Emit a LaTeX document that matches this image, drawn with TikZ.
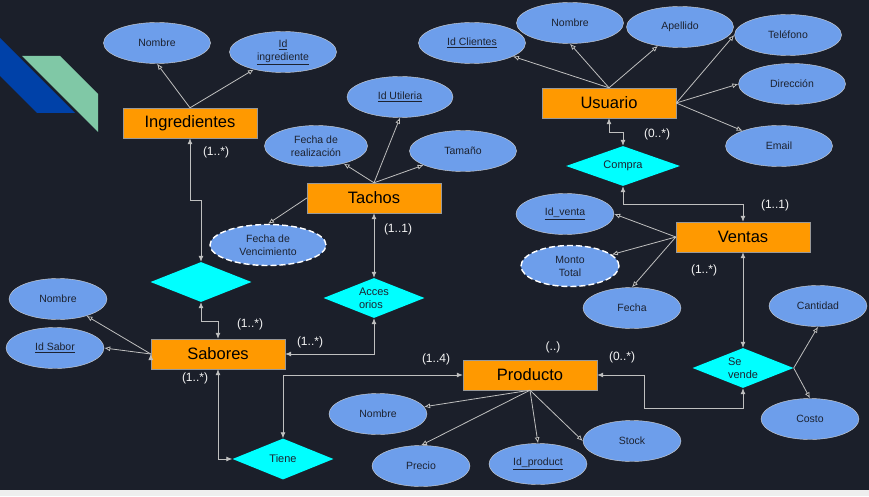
\documentclass[tikz,border=0pt]{standalone}
\usepackage{fontspec}
\setmainfont{Liberation Sans}
\usepackage{tikz}
\usetikzlibrary{arrows.meta, positioning, shapes, calc}

\definecolor{fondo}{HTML}{1B1F2A}
\definecolor{franja}{HTML}{EEEEEE}
\definecolor{atributo}{HTML}{6D9EEB}
\definecolor{entidad}{HTML}{FF9900}
\definecolor{relacion}{HTML}{00FFFF}
\definecolor{linea}{HTML}{BFBFBF}
\definecolor{textoOsc}{HTML}{1C2230}
\definecolor{azulDeco}{HTML}{0041A8}
\definecolor{verdeDeco}{HTML}{80C8A6}

\begin{document}
\begin{tikzpicture}[x=1pt, y=1pt, on grid, >={Latex[length=6pt,width=5pt]}]

    \tikzset{
        entityBox/.style={draw=gray!80, fill=entidad, minimum width=134pt, minimum height=30pt, inner sep=0pt, text=black, font=\fontsize{16.5}{19}\selectfont},
        attrNode/.style={draw=gray!35, fill=atributo, ellipse, minimum width=107pt, minimum height=41pt, inner sep=0pt, align=center, text=textoOsc, font=\fontsize{10.5}{13}\selectfont},
        smallAttr/.style={attrNode, minimum width=98pt},
        derivedAttr/.style={attrNode, draw=white, dashed, dash pattern=on 6pt off 3pt, line width=1.4pt},
        relDiamond/.style={diamond, aspect=2.5, fill=relacion, minimum width=101pt, minimum height=40pt, inner sep=0pt, align=left, text=textoOsc, font=\fontsize{11}{13}\selectfont},
        cardLabel/.style={text=white!92!gray, inner sep=0pt, font=\fontsize{12}{14}\selectfont}
    }

    % Fondo
    \fill[fondo] (0,0) rectangle (869,496);
    \fill[franja] (0,0) rectangle (869,6);
    \useasboundingbox (0,0) rectangle (869,496);

    % Decoracion
    \fill[azulDeco] (0,458) -- (75,383) -- (37,383) -- (0,420) -- cycle;
    \fill[verdeDeco] (22,440) -- (60,440) -- (98,402) -- (98,364) -- cycle;

    % Entidades
    \node[entityBox] (ing) at (190,373) {Ingredientes};
    \node[entityBox] (tachos) at (374,298) {Tachos};
    \node[entityBox] (usu) at (609,393) {Usuario};
    \node[entityBox] (ventas) at (743,259) {Ventas};
    \node[entityBox] (sab) at (218,142) {Sabores};
    \node[entityBox] (prod) at (530,121) {Producto};

    % Relaciones
    \node[relDiamond] (rombo) [below right=159pt and 11pt of ing] {};
    \node[relDiamond] (acc) [below=100pt of tachos] {Acces\\orios};
    \node[relDiamond, minimum width=114pt] (compra) [below right=63pt and 14pt of usu] {Compra};
    \node[relDiamond] (sevende) [below=131pt of ventas] {Se\\vende};
    \node[relDiamond, minimum height=41pt] (tiene) [below right=105pt and 65pt of sab] {Tiene};

    % Atributos
    \node[attrNode] (nomI) [above left=80pt and 33pt of ing] {Nombre};
    \node[attrNode] (idIng) [above right=71pt and 93pt of ing] {\underline{Id}\\\underline{ingrediente}};

    \node[attrNode, minimum width=103pt] (fechaReal) [above left=52pt and 58pt of tachos] {Fecha de\\realización};
    \node[attrNode, minimum width=106pt] (idUtil) [above right=101pt and 26pt of tachos] {\underline{Id Utileria}};
    \node[attrNode] (tamano) [above right=47pt and 89pt of tachos] {Tamaño};
    \node[derivedAttr, minimum width=116pt] (fechaVenc) [below left=47pt and 106pt of tachos] {Fecha de\\Vencimiento};

    \node[attrNode] (idCli) [above left=60pt and 137pt of usu] {\underline{Id Clientes}};
    \node[attrNode] (nomU) [above left=80pt and 39pt of usu] {Nombre};
    \node[attrNode] (apellido) [above right=76pt and 71pt of usu] {Apellido};
    \node[attrNode] (telefono) [above right=68pt and 179pt of usu] {Teléfono};
    \node[attrNode] (direccion) [above right=19pt and 183pt of usu] {Dirección};
    \node[attrNode] (email) [below right=43pt and 170pt of usu] {Email};

    \node[smallAttr] (idVenta) [above left=23pt and 178pt of ventas] {\underline{Id\_venta}};
    \node[derivedAttr, minimum width=98pt] (monto) [below left=29pt and 173pt of ventas] {Monto\\Total};
    \node[smallAttr] (fechaV) [below left=71pt and 111pt of ventas] {Fecha};

    \node[smallAttr] (cantidad) [above right=62pt and 75pt of sevende] {Cantidad};
    \node[smallAttr] (costo) [below right=51pt and 67pt of sevende] {Costo};

    \node[smallAttr] (nomP) [below left=39pt and 152pt of prod] {Nombre};
    \node[smallAttr] (precio) [below left=91pt and 109pt of prod] {Precio};
    \node[smallAttr] (idProd) [below right=89pt and 8pt of prod] {\underline{Id\_product}};
    \node[smallAttr] (stock) [below right=66pt and 102pt of prod] {Stock};

    \node[smallAttr] (nomS) [above left=55pt and 160pt of sab] {Nombre};
    \node[smallAttr] (idSabor) [above left=6pt and 163pt of sab] {\underline{Id Sabor}};

    % Cardinalidades
    \node[cardLabel] (cIng) [below right=29pt and 26pt of ing] {(1..*)};
    \node[cardLabel] (cTachos) [below right=31pt and 24pt of tachos] {(1..1)};
    \node[cardLabel] (cSabRombo) [above right=30pt and 32pt of sab] {(1..*)};
    \node[cardLabel] (cSabAcc) [above right=12pt and 92pt of sab] {(1..*)};
    \node[cardLabel] (cSabTiene) [below left=24pt and 23pt of sab] {(1..*)};
    \node[cardLabel] (cProdTiene) [above left=16pt and 94pt of prod] {(1..4)};
    \node[cardLabel] (cProd) [above right=28pt and 23pt of prod] {(..)};
    \node[cardLabel] (cProdVende) [above right=18pt and 92pt of prod] {(0..*)};
    \node[cardLabel] (cUsu) [below right=31pt and 48pt of usu] {(0..*)};
    \node[cardLabel] (cVentas) [above right=32pt and 32pt of ventas] {(1..1)};
    \node[cardLabel] (cVentasVende) [below left=33pt and 39pt of ventas] {(1..*)};

    % Lineas de atributos
    \path[->, draw=linea, line width=0.8pt]
    (ing.north) edge (nomI.south)
    (ing.north) edge (idIng)
    (tachos.north) edge (fechaReal)
    (tachos.north) edge (idUtil.south)
    (tachos.north) edge (tamano)
    (tachos.west) edge (fechaVenc.north)
    (usu.north) edge (idCli)
    (usu.north) edge (nomU.south)
    (usu.north) edge (apellido)
    (usu.east) edge (telefono.west)
    (usu.east) edge (direccion.west)
    (usu.east) edge (email)
    (ventas.west) edge (idVenta.east)
    (ventas.west) edge (monto)
    (ventas.west) edge (fechaV.north)
    (sevende.east) edge (cantidad.south)
    (sevende.east) edge (costo.north)
    (prod.south) edge (nomP)
    (prod.south) edge (precio.north)
    (prod.south) edge (idProd.north)
    (prod.south) edge (stock.west)
    (sab.west) edge (nomS)
    (sab.west) edge (idSabor.east);

    % Lineas de relaciones
    \draw[<->, linea, line width=0.8pt] (ing.south) -- ++(0,-62) -| (rombo.north);
    \draw[<->, linea, line width=0.8pt] (rombo.south) -- ++(0,-19) -| (sab.north);
    \draw[<->, linea, line width=0.8pt] (sab.east) -| (acc.south);
    \draw[<->, linea, line width=0.8pt] (tachos.south) -- (acc.north);
    \draw[<->, linea, line width=0.8pt] (sab.south) |- (tiene.west);
    \draw[<->, linea, line width=0.8pt] (prod.west) -| (tiene.north);
    \draw[<->, linea, line width=0.8pt] (usu.south) -- ++(0,-14) -| (compra.north);
    \draw[<->, linea, line width=0.8pt] (compra.south) -- ++(0,-18) -| (ventas.north);
    \draw[<->, linea, line width=0.8pt] (ventas.south) -- (sevende.north);
    \draw[<->, linea, line width=0.8pt] (sevende.south) -- ++(0,-20) -| ($(prod.east)+(47,0)$) -- (prod.east);

\end{tikzpicture}
\end{document}
